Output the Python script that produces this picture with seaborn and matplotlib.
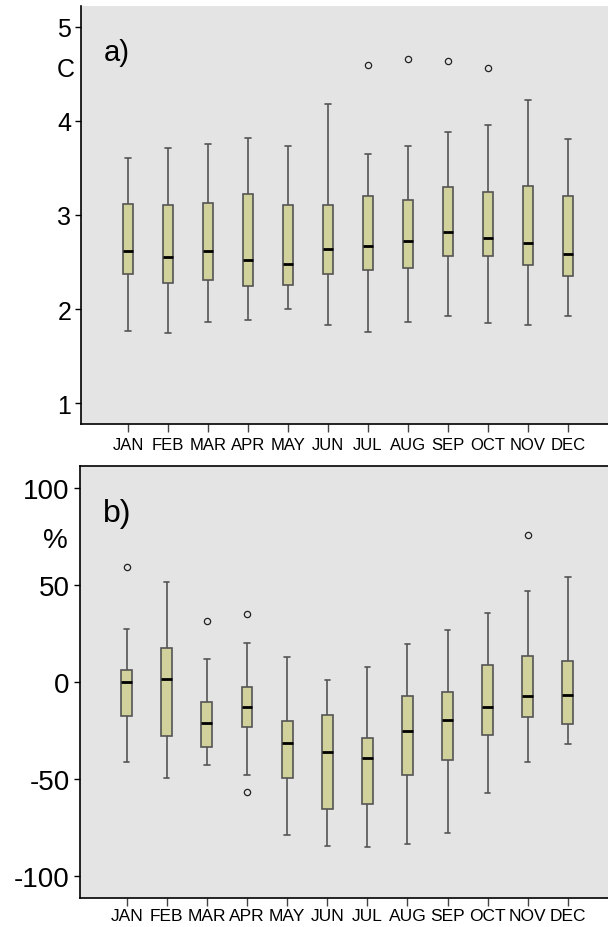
import numpy as np
import pandas as pd
import matplotlib
matplotlib.use("Agg")
import matplotlib.pyplot as plt
import seaborn as sns

months = ["JAN", "FEB", "MAR", "APR", "MAY", "JUN",
          "JUL", "AUG", "SEP", "OCT", "NOV", "DEC"]

# panel a) temperature, five-number summaries read off the boxes
temp_low = [1.77, 1.74, 1.86, 1.88, 2.00, 1.83, 1.76, 1.86, 1.93, 1.85, 1.83, 1.93]
temp_q1 = [2.37, 2.28, 2.31, 2.25, 2.26, 2.37, 2.42, 2.44, 2.56, 2.56, 2.47, 2.35]
temp_med = [2.62, 2.55, 2.62, 2.52, 2.48, 2.64, 2.67, 2.72, 2.82, 2.75, 2.70, 2.59]
temp_q3 = [3.12, 3.11, 3.13, 3.22, 3.11, 3.11, 3.20, 3.16, 3.30, 3.24, 3.31, 3.20]
temp_high = [3.61, 3.71, 3.76, 3.82, 3.73, 4.18, 3.65, 3.73, 3.88, 3.96, 4.22, 3.81]
temp_out = [[], [], [], [], [], [], [4.60], [4.66], [4.64], [4.56], [], []]

# panel b) precipitation anomaly (%)
prec_low = [-41.0, -49.3, -42.7, -47.9, -78.6, -84.5, -85.0, -83.6, -77.6, -57.2, -41.4, -32.1]
prec_q1 = [-17.5, -27.8, -33.5, -23.0, -49.3, -65.2, -62.8, -47.6, -40.2, -27.3, -17.9, -21.5]
prec_med = [0.3, 1.7, -21.1, -12.6, -31.3, -35.9, -39.3, -25.1, -19.6, -12.9, -6.9, -6.7]
prec_q3 = [6.2, 17.8, -10.5, -2.7, -19.8, -16.7, -28.7, -7.0, -5.3, 8.7, 13.7, 10.8]
prec_high = [27.6, 51.8, 12.0, 20.1, 12.9, 1.0, 8.0, 19.4, 26.6, 35.8, 46.7, 54.2]
prec_out = [[59.2], [], [31.7], [35.3, -56.8], [], [], [], [], [], [], [75.9], []]


def summary_frame(low, q1, med, q3, high, out, reps=20):
    # repeat the quartile values so the boxplot statistics land on the read values
    rows = []
    for i, m in enumerate(months):
        vals = [low[i]] + [q1[i]] * reps + [med[i]] * reps + [q3[i]] * reps + [high[i]] + out[i]
        rows += [(m, v) for v in vals]
    return pd.DataFrame(rows, columns=["month", "value"])


temp_df = summary_frame(temp_low, temp_q1, temp_med, temp_q3, temp_high, temp_out)
prec_df = summary_frame(prec_low, prec_q1, prec_med, prec_q3, prec_high, prec_out)

sns.set_theme(style="ticks", rc={"axes.facecolor": "#e4e4e4",
                                 "axes.edgecolor": "black",
                                 "axes.linewidth": 1.2,
                                 "text.color": "black",
                                 "axes.labelcolor": "black",
                                 "xtick.color": "black",
                                 "ytick.color": "black",
                                 "axes.unicode_minus": False})
plt.rcParams["font.family"] = ["Liberation Sans", "DejaVu Sans"]

fig = plt.figure(figsize=(6.08, 9.28), dpi=100)
ax_a = fig.add_axes([0.1332, 0.5420, 0.8668, 0.4505])
ax_b = fig.add_axes([0.1308, 0.03125, 0.8692, 0.4655])

box_kws = dict(x="month", y="value", order=months, color="#d1d29b", saturation=1,
               width=0.27, linecolor="#555555", linewidth=1.2, whis=1.5,
               medianprops=dict(color="black", linewidth=2.0),
               flierprops=dict(marker="o", markerfacecolor="none", markeredgecolor="#222222",
                               markersize=4.5, markeredgewidth=0.9))

sns.boxplot(data=temp_df, ax=ax_a, **box_kws)
sns.boxplot(data=prec_df, ax=ax_b, **box_kws)

for ax in (ax_a, ax_b):
    ax.set_xlim(-1.175, 12)
    ax.set_xlabel("")
    ax.spines["right"].set_visible(False)
    ax.tick_params(axis="y", length=4, width=1, pad=3)
    ax.tick_params(axis="x", length=6, width=1, color="#444444")

ax_a.spines["top"].set_visible(False)
ax_a.set_ylim(0.777, 5.223)
ax_a.set_yticks([1, 2, 3, 4, 5])
ax_a.tick_params(axis="y", labelsize=18)
ax_a.tick_params(axis="x", labelsize=12, pad=3)
ax_a.set_ylabel("C", rotation=0, fontsize=18, ha="center", va="center")
ax_a.yaxis.set_label_coords(-0.029, 0.849)
ax_a.text(0.068, 0.890, "a)", transform=ax_a.transAxes, fontsize=21,
          ha="center", va="center")

ax_b.set_ylim(-111.2, 111.3)
ax_b.set_yticks([-100, -50, 0, 50, 100])
ax_b.tick_params(axis="y", labelsize=20)
ax_b.tick_params(axis="x", labelsize=12.5, pad=1)
ax_b.set_ylabel("%", rotation=0, fontsize=20, ha="center", va="center")
ax_b.yaxis.set_label_coords(-0.045, 0.829)
ax_b.text(0.071, 0.891, "b)", transform=ax_b.transAxes, fontsize=23,
          ha="center", va="center")

fig.savefig("out.png", dpi=100)
